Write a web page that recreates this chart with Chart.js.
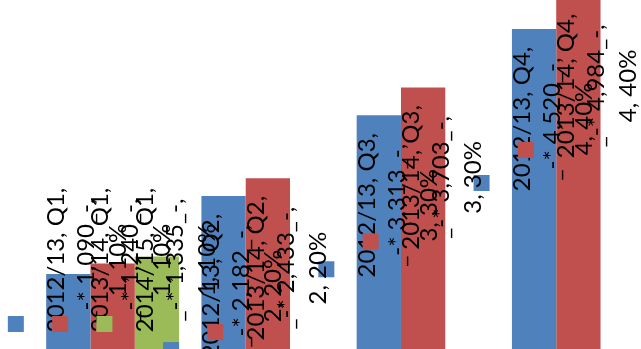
<!DOCTYPE html>
<html>
<head>
<meta charset="utf-8">
<script src="https://cdn.jsdelivr.net/npm/chart.js@4"></script>
<style>
  html, body { margin: 0; padding: 0; background: #fff; overflow: hidden; }
  canvas { display: block; }
</style>
</head>
<body>
<canvas id="myChart" width="656" height="352"></canvas>
<script>
// quarters and the three years of figures
const quarters = ["Q1", "Q2", "Q3", "Q4"];
const seriesNames = ["2012/13", "2013/14", "2014/15"];
const values1213 = [1090, 2182, 3313, 4520];
const values1314 = [1240, 2433, 3703, 4984];
const values1415 = [1335, null, null, null];
const shares = ["1, 10%", "2, 20%", "3, 30%", "4, 40%"];

const colors = ["#4F81BD", "#C0504D", "#9BBB59"];
const FONT = "24px Lato, 'Open Sans', sans-serif";

// Excel-style rotated data labels with a legend key
const labelPlugin = {
  id: "rotatedLabels",
  afterDatasetsDraw(chart) {
    const ctx = chart.ctx;
    const bottom = chart.chartArea.bottom;
    ctx.save();
    ctx.font = FONT;
    ctx.textAlign = "center";
    ctx.textBaseline = "middle";
    chart.data.datasets.forEach((ds, di) => {
      const meta = chart.getDatasetMeta(di);
      meta.data.forEach((bar, i) => {
        const v = ds.data[i];
        if (v === null || v === undefined) return;
        const cx = bar.x;
        let key = bar.y + 154;
        if (key > bottom) key = bottom - 28; // pushed back inside
        ctx.fillStyle = ds.backgroundColor;
        ctx.fillRect(cx - 60.5, key - 8, 16, 16);
        ctx.fillStyle = "#000";
        const lines = [
          [-12, seriesNames[di] + ", " + quarters[i] + ","],
          [18, "_-* " + v.toLocaleString("en-US") + "_-,"],
          [50, shares[i]],
        ];
        lines.forEach(([dx, txt]) => {
          ctx.save();
          ctx.translate(cx + dx, key - 64);
          ctx.rotate(-Math.PI / 2);
          ctx.fillText(txt, 0, 0);
          ctx.restore();
        });
      });
    });
    ctx.restore();
  },
};

const data = {
  labels: quarters,
  datasets: [
    { label: seriesNames[0], data: values1213, backgroundColor: colors[0] },
    { label: seriesNames[1], data: values1314, backgroundColor: colors[1] },
    { label: seriesNames[2], data: values1415, backgroundColor: colors[2] },
  ],
};

const config = {
  type: "bar",
  data: data,
  options: {
    responsive: false,
    animation: false,
    devicePixelRatio: 1,
    layout: { padding: { left: 35, right: 0, top: 0, bottom: 0 } },
    datasets: {
      bar: { barPercentage: 1, categoryPercentage: 0.856, borderWidth: 0 },
    },
    plugins: {
      legend: { display: false },
      tooltip: { enabled: false },
    },
    scales: {
      x: { display: false, grid: { display: false } },
      y: { display: false, min: 0, max: 4926, grid: { display: false } },
    },
  },
  plugins: [labelPlugin],
};

document.fonts.load(FONT).then(() => {
  new Chart(document.getElementById("myChart").getContext("2d"), config);
});
</script>
</body>
</html>
